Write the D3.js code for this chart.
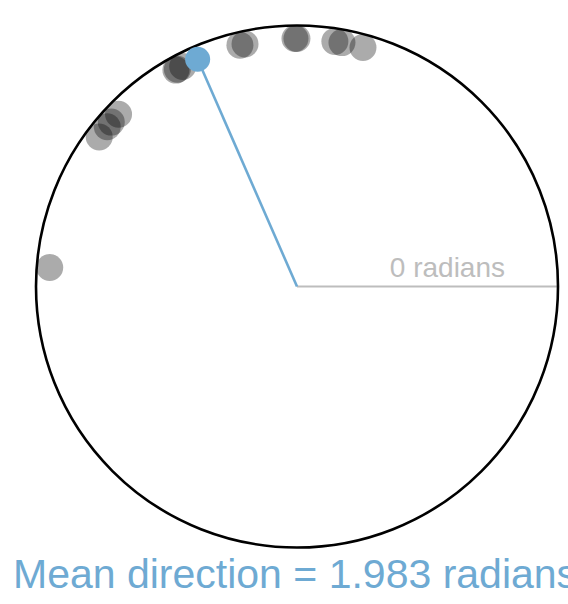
<!DOCTYPE html>
<html>
<head>
<meta charset="utf-8">
<script src="https://cdn.jsdelivr.net/npm/d3@7"></script>
<style>
  html, body { margin: 0; padding: 0; background: #fff; overflow: hidden; }
  svg { display: block; }
  text { font-family: "Liberation Sans", Arial, Helvetica, sans-serif; }
</style>
</head>
<body>
<svg id="chart" width="568" height="604"></svg>
<script>
// Observed directions (radians, counter-clockwise from the positive x-axis)
const directions = [3.065, 2.494, 2.442, 2.417, 2.374, 2.081, 2.050, 2.074,
                    1.803, 1.782, 1.579, 1.571, 1.4175, 1.3885, 1.3015];
// Mean direction reported below the circle
const meanDirection = 1.983;
const zeroLabel = "0 radians";
const meanLabel = "Mean direction = " + meanDirection.toFixed(3) + " radians";

const width = 568, height = 604;
const cx = 297, cy = 286.5;
const circleR = 261;
const pointR = 248;

const svg = d3.select("#chart");
const g = svg.append("g").attr("transform", `translate(${cx},${cy})`);

// radial scale for point placement
const rScale = d3.scaleLinear().domain([0, 1]).range([0, pointR]);
const px = a => rScale(1) * Math.cos(a);
const py = a => -rScale(1) * Math.sin(a);

// zero-radian reference line
g.append("line")
  .attr("x1", 0).attr("y1", 0)
  .attr("x2", circleR).attr("y2", 0)
  .attr("stroke", "#bdbdbd").attr("stroke-width", 2.2);

g.append("text")
  .attr("x", 208).attr("y", -9.5)
  .attr("text-anchor", "end")
  .attr("font-size", 28)
  .attr("fill", "#bdbdbd")
  .text(zeroLabel);

// unit circle
g.append("circle")
  .attr("r", circleR)
  .attr("fill", "none")
  .attr("stroke", "#000")
  .attr("stroke-width", 2.6);

// observations
g.selectAll("circle.obs")
  .data(directions)
  .enter().append("circle")
  .attr("class", "obs")
  .attr("cx", d => px(d))
  .attr("cy", d => py(d))
  .attr("r", 13.5)
  .attr("fill", "#000")
  .attr("fill-opacity", 0.33);

// mean direction
const blue = "#6eaad3";
g.append("line")
  .attr("x1", 0).attr("y1", 0)
  .attr("x2", px(meanDirection)).attr("y2", py(meanDirection))
  .attr("stroke", blue).attr("stroke-width", 2.6);

g.append("circle")
  .attr("cx", px(meanDirection))
  .attr("cy", py(meanDirection))
  .attr("r", 12.5)
  .attr("fill", blue);

svg.append("text")
  .attr("x", 13).attr("y", 588)
  .attr("font-size", 41)
  .attr("fill", blue)
  .text(meanLabel);
</script>
</body>
</html>
